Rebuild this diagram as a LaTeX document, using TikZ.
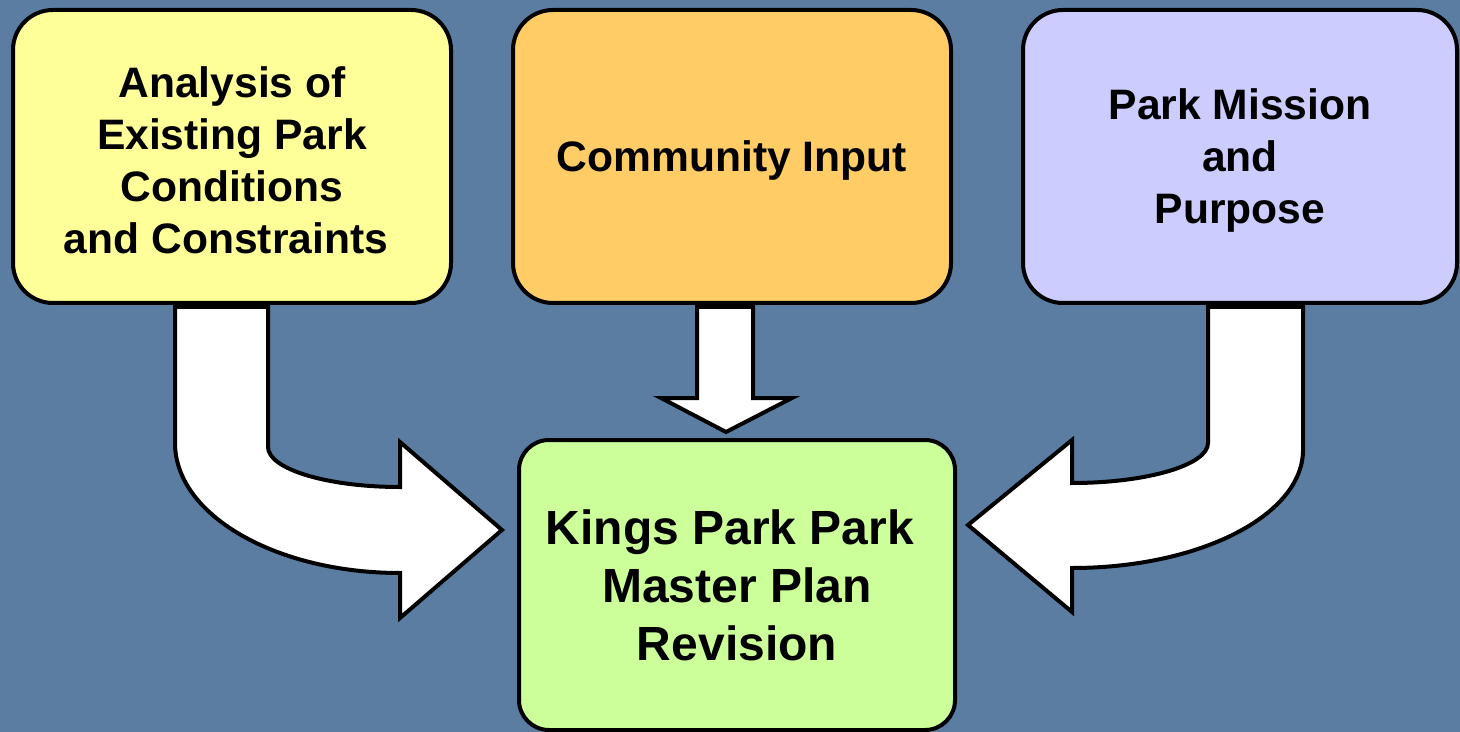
\documentclass[tikz,border=0pt]{standalone}
\usepackage{fontspec}
\setmainfont{Liberation Sans}
\definecolor{bgblue}{RGB}{92,125,162}
\definecolor{boxyellow}{HTML}{FFFF99}
\definecolor{boxorange}{HTML}{FFCC66}
\definecolor{boxpurple}{HTML}{CCCCFF}
\definecolor{boxgreen}{HTML}{CCFF99}
\newcommand{\toppad}{\rule{0pt}{19.5pt}}
\tikzset{
  inbox/.style={draw=black, line width=2pt, rounded corners=20pt, align=center,
    font=\fontsize{21.3}{26}\selectfont\bfseries, text=black,
    minimum width=219pt, minimum height=146.5pt, inner sep=0pt},
  outbox/.style={inbox, rounded corners=15pt, minimum height=145pt,
    font=\fontsize{24}{29}\selectfont\bfseries},
  fatarrow/.style={draw=black, fill=white, line width=2pt, miter limit=10}
}
\begin{document}
\begin{tikzpicture}[x=0.5pt,y=-0.5pt]
\fill[bgblue] (0,0) rectangle (1460,732);
\useasboundingbox (0,0) rectangle (1460,732);
% block arrows
\draw[fatarrow] (175,307) -- (268,307) -- (268,447)
  .. controls (268,469) and (327,487) .. (400,487) -- (400,442) -- (502,530)
  -- (400,618) -- (400,573) .. controls (276,573) and (175,515) .. (175,443) -- cycle;
\draw[fatarrow] (1208,307) -- (1303,307) -- (1303,450)
  .. controls (1303,515) and (1200,568) .. (1072,568) -- (1072,612) -- (968,525)
  -- (1072,440) -- (1072,483) .. controls (1147,483) and (1208,465) .. (1208,443) -- cycle;
\draw[fatarrow] (697,307) -- (753,307) -- (753,398) -- (792,398) -- (726,432)
  -- (661,398) -- (697,398) -- cycle;
% boxes
\node[inbox, fill=boxyellow] (analysis) at (232,156.5)
  {\toppad Analysis of\\Existing Park\\Conditions\hspace*{6pt}\\and Constraints\hspace*{6pt}};
\node[inbox, fill=boxorange] (community) at (732,156.5) {\toppad Community Input};
\node[inbox, fill=boxpurple, minimum width=217pt] (mission) at (1240,156.5)
  {\toppad Park Mission\\and\\Purpose};
\node[outbox, fill=boxgreen, minimum width=218pt] (plan) at (737,585)
  {Kings Park Park\hspace*{7pt}\\Master Plan\\Revision};
\end{tikzpicture}
\end{document}
